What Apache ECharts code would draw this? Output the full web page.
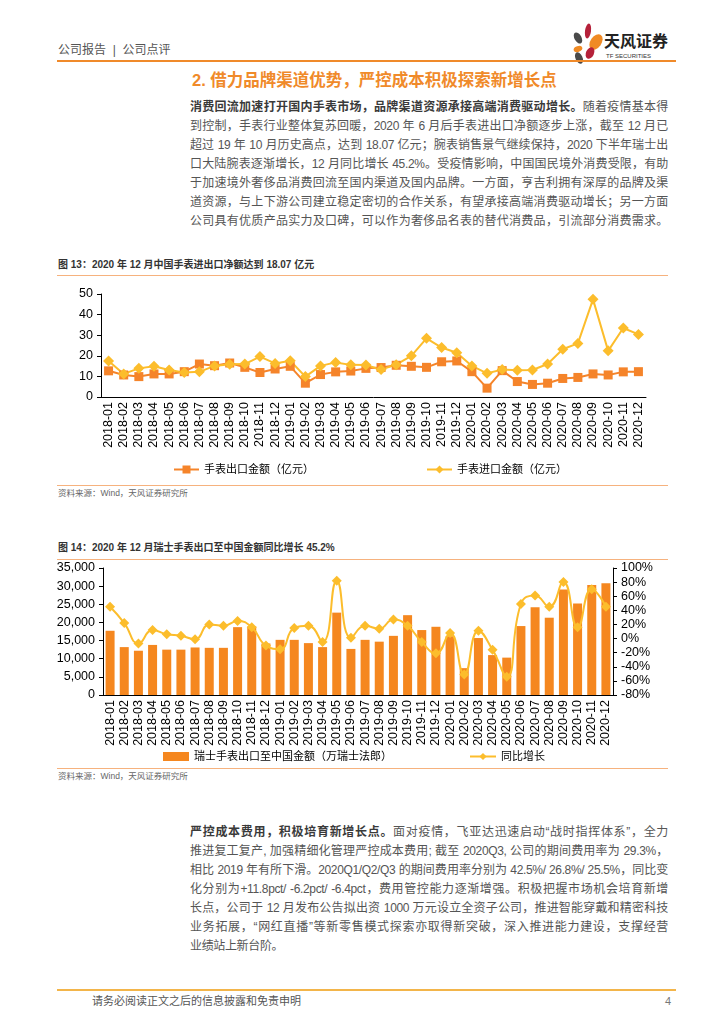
<!DOCTYPE html>
<html><head><meta charset="utf-8">
<script src="https://cdn.jsdelivr.net/npm/echarts@6/dist/echarts.min.js"></script>
<style>
body{margin:0;background:#fff;}
#page{position:relative;width:724px;height:1024px;overflow:hidden;background:#fff;font-family:"Liberation Sans","Noto Sans CJK SC",sans-serif;}
.abs{position:absolute;}
.para{position:absolute;left:190px;width:478px;font-size:12px;color:#555;letter-spacing:-0.35px;}
.para div{height:19px;line-height:19px;text-align:justify;text-align-last:justify;}
.para div.last{text-align-last:left;}
.para b{color:#3a3a3a;}
.cap{position:absolute;left:58px;font-size:10px;font-weight:bold;color:#333;line-height:12px;}
.src{position:absolute;left:58px;font-size:8.5px;color:#666;line-height:10px;}
.rule{position:absolute;left:57px;width:611px;height:1px;background:#F6B27E;}
</style></head>
<body><div id="page">
<svg class="abs" style="left:0;top:0" width="724" height="80">
  <ellipse cx="578" cy="38" rx="3.5" ry="6" fill="#4a4a4a" transform="rotate(-30 578 38)"/>
  <ellipse cx="588" cy="31" rx="3" ry="7.5" fill="#B5213A" transform="rotate(8 588 31)"/>
  <ellipse cx="596" cy="42" rx="5.5" ry="8.5" fill="#F08A24" transform="rotate(35 596 42)"/>
  <ellipse cx="578" cy="49" rx="4.5" ry="2.8" fill="#F08A24" transform="rotate(-20 578 49)"/>
  <ellipse cx="590" cy="53" rx="4" ry="6" fill="#B5213A" transform="rotate(25 590 53)"/>
  <ellipse cx="579" cy="58" rx="3.5" ry="6" fill="#4a4a4a" transform="rotate(-25 579 58)"/>
  <text x="604" y="47" font-size="16" font-weight="bold" fill="#222" font-family="Noto Sans CJK SC">天风证券</text>
  <text x="606" y="58" font-size="6" fill="#333" font-family="Liberation Sans">TF SECURITIES</text>
</svg>
<div class="abs" style="left:58px;top:43px;font-size:12px;color:#555;line-height:14px;">公司报告&nbsp;&nbsp;|&nbsp;&nbsp;公司点评</div>
<div class="abs" style="left:57px;top:60px;width:619px;height:2px;background:#F08A2A;"></div>
<div class="abs" style="left:192px;top:70px;font-size:16.5px;font-weight:bold;color:#F08A2A;line-height:20px;">2. 借力品牌渠道优势，严控成本积极探索新增长点</div>

<div class="para" style="top:98px;">
<div><b>消费回流加速打开国内手表市场，品牌渠道资源承接高端消费驱动增长。</b>随着疫情基本得</div>
<div>到控制，手表行业整体复苏回暖，2020 年 6 月后手表进出口净额逐步上涨，截至 12 月已</div>
<div>超过 19 年 10 月历史高点，达到 18.07 亿元；腕表销售景气继续保持，2020 下半年瑞士出</div>
<div>口大陆腕表逐渐增长，12 月同比增长 45.2%。受疫情影响，中国国民境外消费受限，有助</div>
<div>于加速境外奢侈品消费回流至国内渠道及国内品牌。一方面，亨吉利拥有深厚的品牌及渠</div>
<div>道资源，与上下游公司建立稳定密切的合作关系，有望承接高端消费驱动增长；另一方面</div>
<div>公司具有优质产品实力及口碑，可以作为奢侈品名表的替代消费品，引流部分消费需求。</div>
</div>

<div class="cap" style="top:259px;">图 13：2020 年 12 月中国手表进出口净额达到 18.07 亿元</div>
<div class="rule" style="top:275px;"></div>
<div id="c1" class="abs" style="left:0;top:280px;width:724px;height:200px;"></div>
<div class="rule" style="top:485px;"></div>
<div class="src" style="top:488px;">资料来源：Wind，天风证券研究所</div>

<div class="cap" style="top:542px;">图 14：2020 年 12 月瑞士手表出口至中国金额同比增长 45.2%</div>
<div class="rule" style="top:559px;"></div>
<div id="c2" class="abs" style="left:0;top:560px;width:724px;height:206px;"></div>
<div class="rule" style="top:768px;"></div>
<div class="src" style="top:771px;">资料来源：Wind，天风证券研究所</div>

<div class="para" style="top:823px;">
<div><b>严控成本费用，积极培育新增长点。</b>面对疫情，飞亚达迅速启动“战时指挥体系”，全力</div>
<div>推进复工复产, 加强精细化管理严控成本费用; 截至 2020Q3, 公司的期间费用率为 29.3%，</div>
<div>相比 2019 年有所下滑。2020Q1/Q2/Q3 的期间费用率分别为 42.5%/ 26.8%/ 25.5%，同比变</div>
<div>化分别为+11.8pct/ -6.2pct/ -6.4pct，费用管控能力逐渐增强。积极把握市场机会培育新增</div>
<div>长点，公司于 12 月发布公告拟出资 1000 万元设立全资子公司，推进智能穿戴和精密科技</div>
<div>业务拓展，“网红直播”等新零售模式探索亦取得新突破，深入推进能力建设，支撑经营</div>
<div class="last">业绩站上新台阶。</div>
</div>

<div class="abs" style="left:57px;top:989px;width:619px;height:2px;background:#F3B54A;"></div>
<div class="abs" style="left:92px;top:994px;font-size:11px;color:#555;line-height:14px;">请务必阅读正文之后的信息披露和免责申明</div>
<div class="abs" style="left:665px;top:994px;font-size:11px;color:#777;line-height:14px;">4</div>
</div>
<script>
const categories = ['2018-01','2018-02','2018-03','2018-04','2018-05','2018-06','2018-07','2018-08','2018-09','2018-10','2018-11','2018-12',
  '2019-01','2019-02','2019-03','2019-04','2019-05','2019-06','2019-07','2019-08','2019-09','2019-10','2019-11','2019-12',
  '2020-01','2020-02','2020-03','2020-04','2020-05','2020-06','2020-07','2020-08','2020-09','2020-10','2020-11','2020-12'];
const exportVals = [12.7,10.7,9.9,11.2,11.2,12.3,16.0,15.2,16.5,14.4,11.9,13.6,14.9,6.7,10.9,12.2,12.6,13.9,14.3,15.4,14.9,14.4,17.1,17.5,12.3,4.3,12.8,7.5,6.1,6.7,9.0,9.5,11.2,10.7,12.2,12.3];
const importVals = [17.5,11.2,13.9,14.9,13.1,11.9,12.2,15.1,15.9,16.0,19.6,16.3,17.6,9.9,15.1,16.8,15.6,15.5,13.3,15.7,20.0,28.5,24.0,21.5,15.1,11.5,13.3,13.0,13.1,16.0,23.2,26.0,47.4,22.4,33.5,30.4];
const swissExport = [17700,13200,12200,13800,12500,12500,13100,13000,13000,18700,18900,14200,15200,15200,14300,13200,22700,12700,15200,14700,16300,22000,17900,18800,16200,7400,15700,11000,10300,19000,24200,21300,29100,25200,30300,30800];
const swissYoY = [45,22,-7,12,6,4,-1,20,18,25,16,-10,-15,15,18,-5,82,1,18,14,27,18,-5,-21,8,-51,11,-16,-54,49,61,45,80,16,70,45.2];

const FONT = '"Liberation Sans","Noto Sans CJK SC",sans-serif';
const ORANGE = '#F5842A';
const YELLOW = '#FCBD2C';

const c1 = echarts.init(document.getElementById('c1'));
c1.setOption({
  animation:false,
  textStyle:{fontFamily:FONT},
  grid:{left:101,right:78,top:14,bottom:83},
  legend:{top:179,left:168,itemGap:112,itemWidth:25,itemHeight:10,
    textStyle:{fontSize:11,color:'#000',fontFamily:FONT},
    data:['手表出口金额（亿元）','手表进口金额（亿元）']},
  xAxis:{type:'category',data:categories,
    axisLine:{lineStyle:{color:'#000'}},
    axisTick:{length:4,lineStyle:{color:'#000'}},
    axisLabel:{rotate:90,interval:0,fontSize:12.5,color:'#000',margin:5}},
  yAxis:{type:'value',min:0,max:50,interval:10,
    axisLine:{show:true,lineStyle:{color:'#000'}},
    axisTick:{show:true,length:4,lineStyle:{color:'#000'}},
    splitLine:{show:false},
    axisLabel:{fontSize:12.5,color:'#000',margin:8}},
  series:[
    {name:'手表出口金额（亿元）',type:'line',data:exportVals,symbol:'rect',symbolSize:9,
      itemStyle:{color:ORANGE},lineStyle:{width:2,color:ORANGE}},
    {name:'手表进口金额（亿元）',type:'line',data:importVals,symbol:'diamond',symbolSize:11,
      itemStyle:{color:YELLOW},lineStyle:{width:2,color:YELLOW}}
  ]
});

const c2 = echarts.init(document.getElementById('c2'));
c2.setOption({
  animation:false,
  textStyle:{fontFamily:FONT},
  grid:{left:103,right:111,top:8,bottom:71},
  legend:{top:186,left:158,itemGap:77,itemWidth:26,itemHeight:9,
    textStyle:{fontSize:11,color:'#000',fontFamily:FONT},
    data:[{name:'瑞士手表出口至中国金额（万瑞士法郎）',icon:'rect'},'同比增长']},
  xAxis:{type:'category',data:categories,
    axisLine:{lineStyle:{color:'#000'}},
    axisTick:{length:4,lineStyle:{color:'#000'}},
    axisLabel:{rotate:90,interval:0,fontSize:12.5,color:'#000',margin:5}},
  yAxis:[
    {type:'value',min:0,max:35000,interval:5000,
      axisLine:{show:true,lineStyle:{color:'#000'}},
      axisTick:{show:true,length:4,lineStyle:{color:'#000'}},
      splitLine:{show:false},
      axisLabel:{fontSize:12.5,color:'#000',margin:8,
        formatter:v=>v.toLocaleString('en-US')}},
    {type:'value',min:-80,max:100,interval:20,position:'right',
      axisLine:{show:true,lineStyle:{color:'#000'}},
      axisTick:{show:true,length:4,lineStyle:{color:'#000'}},
      splitLine:{show:false},
      axisLabel:{fontSize:12.5,color:'#000',margin:8,formatter:'{value}%'}}
  ],
  series:[
    {name:'瑞士手表出口至中国金额（万瑞士法郎）',type:'bar',data:swissExport,barWidth:9,
      itemStyle:{color:'#F5871F'}},
    {name:'同比增长',type:'line',yAxisIndex:1,data:swissYoY,smooth:true,symbol:'diamond',symbolSize:10,
      itemStyle:{color:YELLOW},lineStyle:{width:2,color:YELLOW}}
  ]
});
</script>
</body></html>
